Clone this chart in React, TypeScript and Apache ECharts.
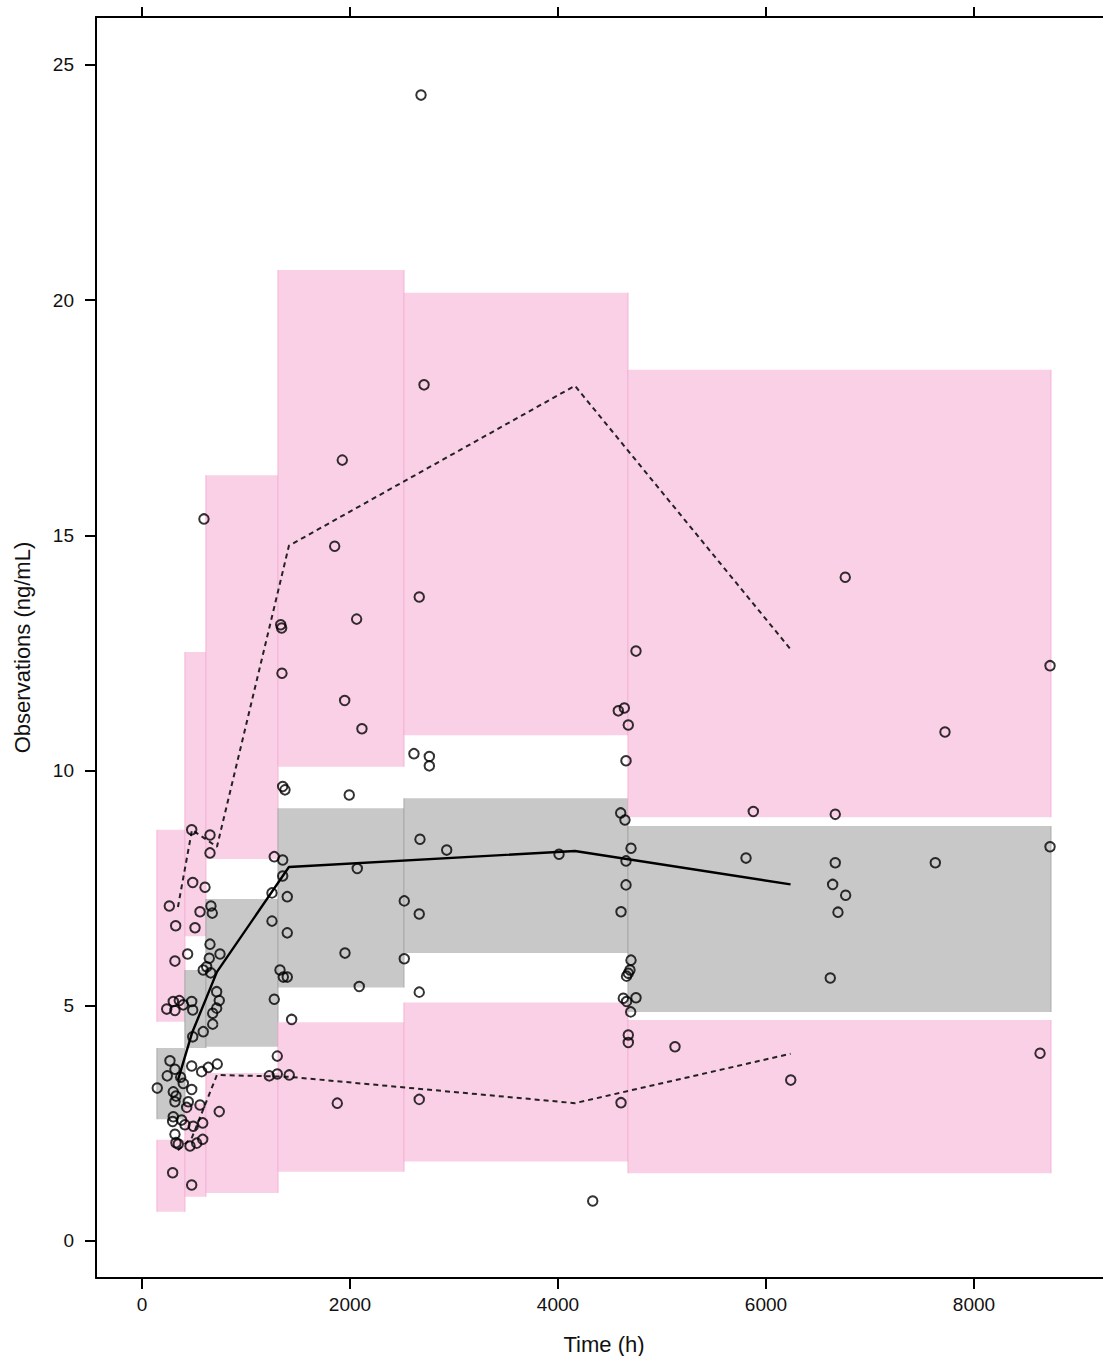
import React, { useEffect, useRef } from "react";
import * as echarts from "echarts";

// Bin edges (time, h) of the VPC
const binEdges = [144, 413, 615, 1308, 2519, 4673, 8740];
// 95th percentile confidence interval (pink, upper)
const upperCILow = [4.66, 6.48, 8.12, 10.08, 10.75, 9.01];
const upperCIHigh = [8.74, 12.52, 16.28, 20.64, 20.16, 18.52];
// median confidence interval (grey)
const medianCILow = [2.59, 4.1, 4.13, 5.39, 6.12, 4.87];
const medianCIHigh = [4.1, 5.76, 7.27, 9.2, 9.41, 8.82];
// 5th percentile confidence interval (pink, lower)
const lowerCILow = [0.62, 0.94, 1.02, 1.47, 1.69, 1.44];
const lowerCIHigh = [2.15, 2.93, 3.57, 4.65, 5.07, 4.7];

// Observed percentiles at bin mid times
const binMidTimes = [346, 481, 721, 1413, 4163, 6236];
const obsMedian = [3.42, 4.42, 5.72, 7.95, 8.29, 7.58];
const obsP95 = [7.1, 8.74, 8.38, 14.78, 18.18, 12.58];
const obsP05 = [1.93, 2.2, 3.53, 3.49, 2.93, 3.98];

// Observations
const obsTime = [
  478, 654, 654, 488, 606, 263, 558, 663, 676, 324, 510, 654, 439, 317, 750, 647, 622, 589, 661, 718,
  301, 359, 397, 478, 238, 317, 488, 743, 718, 680, 680, 589, 488, 269, 317, 243, 478, 574, 638, 724,
  372, 397, 478, 147, 301, 327, 317, 445, 558, 743, 430, 301, 295, 413, 493, 584, 317, 327, 349, 462,
  526, 584, 295, 478, 381,
  1353, 1375, 1993, 1272, 1353, 2070, 1353, 1250, 1397, 1250, 1397, 1952, 1327, 1359, 1397, 2089, 1272, 1439, 1301, 1224,
  1301, 1416, 1878, 2673, 2930, 2522, 2666, 2522, 2666, 2666, 4010, 4603, 4644, 4702, 4654, 4654, 4606, 4702, 4692, 4676,
  4659, 4628, 4660, 4750, 4699, 4676, 4676, 4606, 5125, 4334, 2683, 2712, 1926, 596, 1853, 2666, 2064, 1334, 1343, 1346,
  1949, 2115, 4750, 4580, 4638, 4676, 2615, 2763, 2763, 4654, 6762, 8731, 7721, 5878, 6666, 5808, 6666, 7628, 8731, 6641,
  6766, 6692, 6618, 8635, 6238,
];
const obsConc = [
  8.74, 8.63, 8.25, 7.62, 7.52, 7.12, 7.0, 7.12, 6.97, 6.7, 6.66, 6.31, 6.1, 5.95, 6.1, 6.01, 5.83, 5.76, 5.7, 5.3,
  5.09, 5.11, 5.02, 5.09, 4.93, 4.9, 4.91, 5.11, 4.95, 4.84, 4.61, 4.45, 4.34, 3.83, 3.65, 3.51, 3.72, 3.6, 3.69, 3.76,
  3.48, 3.35, 3.22, 3.25, 3.17, 3.08, 2.96, 2.96, 2.89, 2.75, 2.84, 2.64, 2.54, 2.47, 2.44, 2.51, 2.27, 2.09, 2.06, 2.02,
  2.08, 2.16, 1.45, 1.19, 2.57,
  9.66, 9.59, 9.48, 8.17, 8.1, 7.92, 7.76, 7.4, 7.32, 6.8, 6.55, 6.12, 5.76, 5.61, 5.61, 5.41, 5.14, 4.71, 3.93, 3.51,
  3.55, 3.53, 2.93, 8.54, 8.31, 7.23, 6.95, 6.0, 5.29, 3.01, 8.22, 9.1, 8.95, 8.35, 8.08, 7.57, 7.0, 5.97, 5.76, 5.69,
  5.63, 5.16, 5.09, 5.17, 4.87, 4.38, 4.22, 2.94, 4.13, 0.85, 24.36, 18.2, 16.6, 15.35, 14.77, 13.69, 13.22, 13.1, 13.03, 12.07,
  11.49, 10.89, 12.54, 11.27, 11.33, 10.97, 10.36, 10.3, 10.1, 10.21, 14.11, 12.23, 10.82, 9.13, 9.07, 8.14, 8.04, 8.04, 8.38, 7.58,
  7.35, 6.99, 5.59, 3.99, 3.42,
];

const xTicks = [0, 2000, 4000, 6000, 8000];
const yTicks = [0, 5, 10, 15, 20, 25];

const FONT = "'Liberation Sans', Arial, Helvetica, sans-serif";

export default function App() {
  const ref = useRef<HTMLDivElement>(null);
  useEffect(() => {
    if (!ref.current) return;
    const chart = echarts.init(ref.current, undefined, { renderer: "svg" });

    const bandData: number[][] = [];
    for (let i = 0; i < binEdges.length - 1; i++) {
      bandData.push([binEdges[i], binEdges[i + 1], upperCILow[i], upperCIHigh[i], 0]);
      bandData.push([binEdges[i], binEdges[i + 1], lowerCILow[i], lowerCIHigh[i], 0]);
      bandData.push([binEdges[i], binEdges[i + 1], medianCILow[i], medianCIHigh[i], 1]);
    }

    const renderBand = (params: any, api: any) => {
      const x0 = api.value(0);
      const x1 = api.value(1);
      const lo = api.value(2);
      const hi = api.value(3);
      const kind = api.value(4);
      const p0 = api.coord([x0, hi]);
      const p1 = api.coord([x1, lo]);
      const fill = kind === 1 ? "#c8c8c8" : "#f9d0e6";
      const edge = kind === 1 ? "#a9a9a9" : "#f6b3d6";
      return {
        type: "group",
        children: [
          {
            type: "rect",
            shape: { x: p0[0], y: p0[1], width: p1[0] - p0[0], height: p1[1] - p0[1] },
            style: { fill },
          },
          {
            type: "line",
            shape: { x1: p0[0], y1: p0[1], x2: p0[0], y2: p1[1] },
            style: { stroke: edge, lineWidth: 1 },
          },
          {
            type: "line",
            shape: { x1: p1[0], y1: p0[1], x2: p1[0], y2: p1[1] },
            style: { stroke: edge, lineWidth: 1 },
          },
        ],
      };
    };

    const axisLineStyle = { color: "#000", width: 2 };
    const labelStyle = { fontSize: 19, color: "#111", fontFamily: FONT };
    const plain = (v: number) => String(v);

    chart.setOption({
      animation: false,
      backgroundColor: "#fff",
      grid: {
        left: 96,
        top: 17,
        width: 1034,
        height: 1261,
        containLabel: false,
        outerBoundsMode: "none",
      },
      xAxis: [
        {
          type: "value",
          position: "bottom",
          min: -442,
          max: 9500,
          name: "Time (h)",
          nameLocation: "middle",
          nameGap: 55,
          nameTextStyle: { fontSize: 22, color: "#111", fontFamily: FONT, padding: [0, 18, 0, 0] },
          axisLine: { show: true, onZero: false, lineStyle: axisLineStyle },
          axisTick: { show: true, inside: false, length: 11, customValues: xTicks, lineStyle: axisLineStyle },
          axisLabel: { show: true, margin: 17, customValues: xTicks, formatter: plain, ...labelStyle },
          splitLine: { show: false },
        },
        {
          type: "value",
          position: "top",
          min: -442,
          max: 9500,
          axisLine: { show: true, onZero: false, lineStyle: axisLineStyle },
          axisTick: { show: true, inside: false, length: 10, customValues: xTicks, lineStyle: axisLineStyle },
          axisLabel: { show: false },
          splitLine: { show: false },
        },
      ],
      yAxis: {
        type: "value",
        min: -0.787,
        max: 26.02,
        name: "Observations (ng/mL)",
        nameLocation: "middle",
        nameGap: 63,
        nameTextStyle: { fontSize: 22, color: "#111", fontFamily: FONT },
        axisLine: { show: true, onZero: false, lineStyle: axisLineStyle },
        axisTick: { show: true, inside: false, length: 11, customValues: yTicks, lineStyle: axisLineStyle },
        axisLabel: { show: true, margin: 22, customValues: yTicks, formatter: plain, ...labelStyle },
        splitLine: { show: false },
      },
      series: [
        {
          type: "custom",
          renderItem: renderBand,
          data: bandData,
          encode: { x: [0, 1], y: [2, 3] },
          z: 1,
          silent: true,
        },
        {
          type: "line",
          data: binMidTimes.map((t, i) => [t, obsP95[i]]),
          showSymbol: false,
          lineStyle: { color: "#222", width: 2, type: [5, 4] },
          z: 3,
        },
        {
          type: "line",
          data: binMidTimes.map((t, i) => [t, obsP05[i]]),
          showSymbol: false,
          lineStyle: { color: "#222", width: 2, type: [5, 4] },
          z: 3,
        },
        {
          type: "line",
          data: binMidTimes.map((t, i) => [t, obsMedian[i]]),
          showSymbol: false,
          lineStyle: { color: "#000", width: 2.4 },
          z: 3,
        },
        {
          type: "scatter",
          data: obsTime.map((t, i) => [t, obsConc[i]]),
          symbol: "circle",
          symbolSize: 9.5,
          itemStyle: { color: "rgba(0,0,0,0)", borderColor: "#000", borderWidth: 2 },
          z: 4,
        },
      ],
    });
    return () => chart.dispose();
  }, []);
  return (
    <div
      ref={ref}
      style={{ position: "absolute", left: 0, top: 0, width: 1103, height: 1356, background: "#fff" }}
    />
  );
}
